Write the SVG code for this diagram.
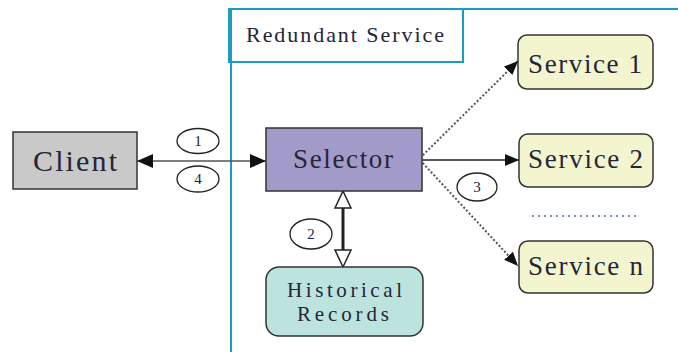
<svg xmlns="http://www.w3.org/2000/svg" width="678" height="352" viewBox="0 0 678 352">
<style>
text{font-family:"Liberation Serif","Times New Roman",serif;fill:#252538}
.node{stroke:#333;stroke-width:1.5}
.num{font-size:15px;text-anchor:middle;fill:#1e1e3a}
.ell{fill:#fff;stroke:#222;stroke-width:1.3}
.cyan{fill:none;stroke:#1b9cc2;stroke-width:2}
</style>
<defs>
<marker id="ah" markerUnits="userSpaceOnUse" markerWidth="18" markerHeight="14" refX="16" refY="7" orient="auto-start-reverse">
<path d="M0,0 L16,7 L0,14 Z" fill="#111"/>
</marker>
<marker id="ahs" markerUnits="userSpaceOnUse" markerWidth="16" markerHeight="14" refX="14" refY="7" orient="auto">
<path d="M0,1 L14,7 L0,13 Z" fill="#111"/>
</marker>
</defs>
<g id="container">
<rect class="cyan" x="231" y="9" width="460" height="360"/>
<rect class="cyan" x="229" y="9" width="234" height="53"/>
<text x="246" y="42" font-size="22" textLength="198" lengthAdjust="spacing">Redundant Service</text>
</g>
<g id="connectors">
<line x1="137" y1="161" x2="266" y2="161" stroke="#555" stroke-width="1.5" marker-start="url(#ah)" marker-end="url(#ah)"/>
<line x1="422" y1="160" x2="519" y2="160" stroke="#222" stroke-width="1.5" marker-end="url(#ahs)"/>
<line x1="420" y1="158" x2="518" y2="61" stroke="#555" stroke-width="2" stroke-dasharray="2,2" marker-end="url(#ahs)"/>
<line x1="420" y1="160" x2="518" y2="266" stroke="#555" stroke-width="2" stroke-dasharray="2,2" marker-end="url(#ahs)"/>
<line x1="343" y1="207" x2="343" y2="251" stroke="#222" stroke-width="3"/>
<path d="M343,191 L351,208 L335,208 Z" fill="#fff" stroke="#222" stroke-width="1.5"/>
<path d="M343,267 L351,250 L335,250 Z" fill="#fff" stroke="#222" stroke-width="1.5"/>
<line x1="532" y1="216" x2="638" y2="216" stroke="#4a6fa5" stroke-width="1.5" stroke-dasharray="2,4"/>
<g id="labels">
<ellipse class="ell" cx="198" cy="141" rx="21" ry="12.5"/>
<text class="num" x="198" y="146">1</text>
<ellipse class="ell" cx="198" cy="179" rx="21" ry="13"/>
<text class="num" x="198" y="184">4</text>
<ellipse class="ell" cx="477" cy="187" rx="20" ry="14"/>
<text class="num" x="477" y="192">3</text>
<ellipse class="ell" cx="311" cy="234" rx="21" ry="15"/>
<text class="num" x="311" y="239">2</text>
</g>
</g>
<g id="client">
<rect class="node" x="13" y="132" width="124" height="57" fill="#c9c9ca"/>
<text x="33" y="171" font-size="30" textLength="84" lengthAdjust="spacing">Client</text>
</g>
<g id="selector">
<rect class="node" x="266" y="128" width="156" height="63" fill="#a29bca"/>
<text x="293" y="168" font-size="27" textLength="100" lengthAdjust="spacing">Selector</text>
</g>
<g id="service1">
<rect class="node" x="518" y="35" width="135" height="54" rx="9" fill="#f3f5cf"/>
<text x="528" y="73" font-size="27" textLength="114" lengthAdjust="spacing">Service 1</text>
</g>
<g id="service2">
<rect class="node" x="519" y="134" width="134" height="53" rx="9" fill="#f3f5cf"/>
<text x="528" y="168" font-size="27" textLength="115" lengthAdjust="spacing">Service 2</text>
</g>
<g id="servicen">
<rect class="node" x="519" y="241" width="134" height="52" rx="9" fill="#f3f5cf"/>
<text x="528" y="275" font-size="27" textLength="115" lengthAdjust="spacing">Service n</text>
</g>
<g id="historical">
<rect class="node" x="266" y="267" width="157" height="69" rx="13" fill="#bde3df"/>
<text x="287" y="297" font-size="21" textLength="115" lengthAdjust="spacing">Historical</text>
<text x="297" y="321" font-size="21" textLength="92" lengthAdjust="spacing">Records</text>
</g>
</svg>
